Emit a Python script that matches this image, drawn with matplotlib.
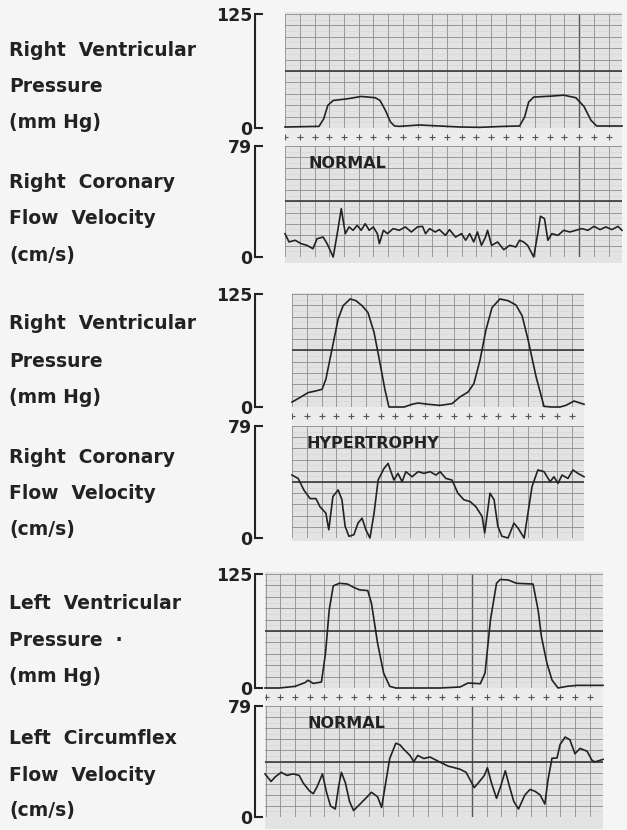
import numpy as np
from matplotlib import pyplot as plt

FIG_W, FIG_H = 627, 830

# values read off the strips; t is position along the strip in % of its width
# top strip: normal right ventricle
rv_norm_t = [0, 10.1, 11.5, 12.7, 14.3, 18.5, 22.6, 26.8, 28.2, 29.8, 31.3, 32.5, 33.9, 39.9, 45.8,
             51.8, 57.7, 64.9, 69.6, 71.1, 72.3, 73.8, 79.2, 82.7, 86.3, 88.7, 90.8, 92.5, 100]
rv_norm_p = [1.1, 1.8, 10.2, 24.8, 30.2, 32, 34.6, 33.2, 30.2, 19.3, 6.6, 2.2, 1.8, 3.3, 2.2,
             1.1, 0.7, 1.8, 2.2, 12, 28.4, 33.9, 35, 36, 33.2, 23.7, 8.4, 2.2, 2.2]
rc_norm_t = [0, 1.2, 3.0, 4.8, 6.5, 8.3, 9.5, 11.3, 12.5, 14.3, 15.5, 16.7, 17.9, 19.0, 20.2, 21.4,
             22.6, 23.8, 25.0, 26.2, 27.4, 28.0, 29.2, 30.4, 32.1, 33.9, 35.7, 37.5, 39.3, 40.8,
             41.7, 42.9, 44.6, 45.8, 47.6, 48.8, 50.6, 52.4, 53.6, 54.8, 56.0, 57.1, 58.3, 59.5,
             60.1, 61.3, 63.1, 64.9, 66.7, 68.5, 69.6, 70.8, 72.0, 73.8, 75.0, 75.8, 77.0, 78.0,
             79.2, 81.0, 82.7, 84.5, 86.3, 88.1, 89.9, 91.7, 93.5, 95.2, 97.0, 98.8, 100]
rc_norm_v = [16.6, 10.7, 11.9, 9.5, 8.3, 5.9, 13, 14.2, 9.5, 0, 16.6, 34.4, 16.6, 21.4, 19, 22.5,
             19, 23.7, 19, 21.4, 16.6, 9.5, 19, 16.6, 20.2, 19, 21.4, 17.8, 21.4, 21.8,
             16.6, 20.2, 17.8, 19.5, 15.4, 19.5, 14.2, 16.6, 11.9, 16.6, 10.7, 17.8, 8.3, 14.2,
             19, 8.3, 10.7, 5.2, 8.3, 7.1, 11.9, 10.7, 8.3, 0, 16.6, 29, 27.3, 11.9,
             16.6, 15.4, 19, 17.8, 19, 20.2, 19, 21.8, 19.5, 21.4, 19.5, 21.8, 19]

# middle strip: hypertrophied right ventricle
rv_hyp_t = [0, 2.7, 5.5, 8.2, 10.3, 11.6, 13.0, 14.4, 15.8, 17.5, 19.9, 21.9, 24.0, 26.0, 28.1,
            30.1, 31.8, 33.2, 35.6, 38.4, 41.1, 43.2, 46.6, 50.7, 54.8, 57.5, 60.3, 62.3, 64.4,
            66.4, 68.5, 71.2, 74.0, 76.7, 78.8, 80.8, 83.6, 86.3, 89.0, 91.8, 93.8, 96.6, 100]
rv_hyp_p = [5.5, 10.4, 15.9, 17.8, 19.6, 30.7, 52.9, 75, 97.3, 112, 119.5, 117.6, 112, 104.6, 82.5,
            49.2, 19.6, 0, 0, 0, 3, 4.4, 3, 1.8, 3.7, 11.1, 16.6, 26, 52,
            85, 110, 119.5, 117.6, 112.8, 101, 75, 33.3, 0.7, 0, 0, 1.8, 6.6, 3]
rc_hyp_t = [0, 2.1, 4.1, 6.2, 8.2, 9.6, 11.6, 12.6, 14.0, 15.8, 17.1, 18.2, 19.5, 21.2, 22.6,
            24.0, 25.3, 26.7, 28.1, 29.5, 31.5, 32.9, 34.9, 36.3, 37.7, 39.0, 41.1, 43.2, 45.2,
            47.3, 49.3, 50.7, 52.7, 54.8, 56.8, 58.9, 61.0, 63.0, 65.1, 66.0, 67.8, 69.2, 70.5,
            71.9, 74.0, 76.0, 77.4, 79.5, 80.8, 82.2, 84.2, 86.3, 88.4, 89.7, 91.1, 92.5, 94.5,
            96.2, 97.9, 100]
rc_hyp_v = [44.4, 42, 33.7, 27.8, 27.8, 22, 17.5, 5.8, 29.2, 33.9, 27, 8.2, 1.2, 2.3, 10.5,
            14, 5.8, 0, 17.5, 40.9, 49, 52.6, 40.9, 45.6, 39.7, 46.8, 43.2, 46.8, 45.6,
            46.8, 44.4, 46.8, 42, 40.9, 31.6, 26.9, 25.7, 22, 15.2, 3.5, 31.6, 27, 8.2,
            1.2, 0, 10.5, 7, 0, 17.5, 36.2, 48, 46.8, 39.7, 43.2, 38.6, 44.4, 42,
            48, 45.6, 43.2]

# bottom strip: normal left ventricle
lv_norm_t = [0, 4.2, 8.9, 11.9, 12.7, 14.3, 16.7, 17.9, 19.0, 20.2, 22.0, 24.4, 26.2, 28.0, 30.4,
             31.5, 33.3, 35.1, 36.9, 38.7, 43.5, 51.8, 57.7, 60.1, 63.7, 65.1, 66.7, 68.5, 69.6,
             72.0, 74.4, 79.3, 80.8, 81.8, 83.4, 84.9, 86.7, 89.3, 92.3, 100]
lv_norm_p = [0, 0, 1.8, 6.0, 8.5, 5.0, 6.6, 38, 85.6, 112, 114.8, 114, 110.4, 107.6, 106.8,
             92.9, 49.2, 16.4, 1.8, 0, 0, 0, 1.1, 5.5, 4.7, 16.4, 74.7, 114.8, 119,
             118.4, 114.8, 114, 85.5, 56, 27.4, 8.8, 0, 1.8, 2.9, 2.9]
lcx_norm_t = [0, 1.8, 3.0, 4.8, 6.5, 8.3, 10.1, 11.3, 13.1, 14.3, 15.5, 17.0, 18.2, 19.4, 20.8,
              21.8, 22.6, 23.8, 25.0, 26.2, 28.0, 29.8, 31.5, 33.3, 34.5, 35.7, 36.9, 38.7, 39.9,
              41.1, 42.9, 44.0, 45.2, 47.0, 48.8, 50.6, 52.4, 54.2, 56.0, 57.7, 59.5, 60.7, 61.9,
              63.1, 64.9, 65.8, 67.0, 68.5, 69.6, 71.1, 72.3, 73.6, 75.0, 76.9, 78.4, 79.9, 81.4,
              82.8, 83.7, 84.9, 86.4, 87.3, 88.8, 90.2, 91.7, 93.2, 95.3, 96.7, 97.6, 100]
lcx_norm_v = [30.7, 25.3, 28.5, 31.8, 29.6, 30.7, 29.6, 24.2, 18.7, 16.6, 22, 30.7, 17.6, 7.8, 5.7,
              22, 31.8, 24.2, 11.1, 4.6, 8.9, 13.3, 17.6, 14.4, 6.8, 24.2, 41.6, 52.5, 51.4,
              48.1, 43.8, 39.4, 43.8, 41.6, 42.7, 40.5, 38.3, 36.2, 35.1, 34, 31.8, 26.4, 20.9,
              24.2, 29.6, 35.1, 24.2, 13.3, 20.9, 32.9, 22, 11.1, 5.7, 15.7, 19.6, 18.3, 15.7,
              9.2, 26, 41.8, 42, 51.6, 56.9, 55, 45, 48.8, 46.8, 40.5, 39.2, 41]

PAPER = '#e3e3e3'
STRIP = '#ececec'
LINE = '#8c8c8c'
INK = '#222222'

plt.rcParams['font.family'] = ['DejaVu Sans']
plt.rcParams['font.weight'] = 'bold'


def box(left, top, right, bottom):
    # pixel box of the 627x830 page -> figure fraction
    return [left / FIG_W, 1 - bottom / FIG_H, (right - left) / FIG_W, (bottom - top) / FIG_H]


groups = [
    dict(left=285, right=622, grid_top=12, grid_bottom=263, p_top=14, p_bot=128, f_top=146, f_bot=257,
         vstart=0.09, vstep=4.36, dark=[20], caption='NORMAL', cap_x=0.071,
         p=(rv_norm_t, rv_norm_p), f=(rc_norm_t, rc_norm_v),
         labels=['Right  Ventricular', 'Pressure', '(mm Hg)', 'Right  Coronary', 'Flow  Velocity', '(cm/s)'],
         label_y=[50, 86, 122, 182, 218, 255]),
    dict(left=292, right=584, grid_top=293, grid_bottom=541, p_top=294, p_bot=407, f_top=426, f_bot=538,
         vstart=0.1, vstep=5.04, dark=[], caption='HYPERTROPHY', cap_x=0.048,
         p=(rv_hyp_t, rv_hyp_p), f=(rc_hyp_t, rc_hyp_v),
         labels=['Right  Ventricular', 'Pressure', '(mm Hg)', 'Right  Coronary', 'Flow  Velocity', '(cm/s)'],
         label_y=[323, 361, 397, 457, 493, 530]),
    dict(left=265, right=603, grid_top=572, grid_bottom=829, p_top=574, p_bot=688, f_top=706, f_bot=817,
         vstart=0.15, vstep=4.36, dark=[14], caption='NORMAL', cap_x=0.127,
         p=(lv_norm_t, lv_norm_p), f=(lcx_norm_t, lcx_norm_v),
         labels=['Left  Ventricular', 'Pressure  \u00b7', '(mm Hg)', 'Left  Circumflex', 'Flow  Velocity', '(cm/s)'],
         label_y=[603, 640, 677, 738, 775, 810]),
]

fig = plt.figure(figsize=(FIG_W / 100, FIG_H / 100), dpi=100)
fig.patch.set_facecolor('#f5f5f5')

for g in groups:
    vlines = np.arange(g['vstart'], 100.01, g['vstep'])

    paper = fig.add_axes(box(g['left'], g['grid_top'], g['right'], g['grid_bottom']))
    paper.set_facecolor(PAPER)
    paper.set_xlim(0, 100)
    paper.set_xticks([])
    paper.set_yticks([])
    for s in paper.spines.values():
        s.set_visible(False)

    strip = fig.add_axes(box(g['left'], g['p_bot'], g['right'], g['f_top']))
    strip.set_facecolor(STRIP)
    strip.set_xlim(0, 100)
    strip.set_ylim(0, 1)
    strip.plot(vlines, np.full(len(vlines), 0.5), '+', color='#555555', ms=5, mew=0.8)
    strip.set_xticks([])
    strip.set_yticks([])
    for s in strip.spines.values():
        s.set_visible(False)

    offset = (g['left'] - 255) * 0.72
    for top, bot, ymax, (t, y) in [(g['p_top'], g['p_bot'], 125, g['p']),
                                   (g['f_top'], g['f_bot'], 79, g['f'])]:
        ax = fig.add_axes(box(g['left'], top, g['right'], bot))
        ax.patch.set_alpha(0)
        ax.set_xlim(0, 100)
        ax.set_ylim(0, ymax)

        for i, v in enumerate(vlines):
            if i in g['dark']:
                ax.axvline(v, color='#555555', lw=1.0, zorder=1)
            else:
                ax.axvline(v, color=LINE, lw=0.6, zorder=1)
        for h in np.linspace(0, ymax, 21):
            ax.axhline(h, color='#b8b8b8', lw=0.4, ls=':', zorder=1)
        for h in np.linspace(0, ymax, 11):
            ax.axhline(h, color=LINE, lw=0.6, zorder=1)
        ax.axhline(ymax / 2, color='#3a3a3a', lw=1.2, zorder=2)

        ax.plot(t, y, color=INK, lw=1.2, clip_on=False, zorder=3)

        for side in ['top', 'right', 'bottom']:
            ax.spines[side].set_visible(False)
        ax.spines['left'].set_position(('outward', offset))
        ax.spines['left'].set_linewidth(1.5)
        ax.spines['left'].set_color(INK)
        ax.set_xticks([])
        ax.set_yticks([0, ymax])
        ax.set_yticklabels(['0', str(ymax)])
        ax.tick_params(axis='y', direction='in', length=6, width=1.5, pad=2,
                       labelsize=12.5, colors=INK)

        if ymax == 79:
            ax.text(g['cap_x'], 0.84, g['caption'], transform=ax.transAxes, fontsize=11.5,
                    fontweight='bold', color=INK, va='center', ha='left')

    for text, yc in zip(g['labels'], g['label_y']):
        fig.text(9 / FIG_W, 1 - yc / FIG_H, text, fontsize=13.5, fontweight='bold',
                 color=INK, va='center', ha='left')

plt.savefig('out.png', dpi=100, facecolor=fig.get_facecolor())
